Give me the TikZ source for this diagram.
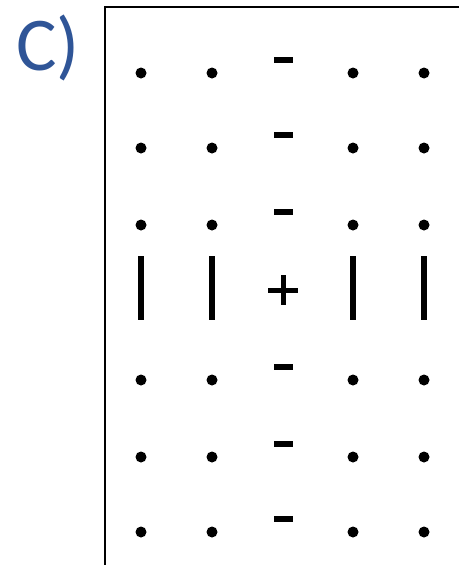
\documentclass[tikz,border=0pt]{standalone}
\usepackage{fontspec}
\newfontfamily\tagfont{Carlito}
\definecolor{tagblue}{HTML}{2F5597}
\begin{document}
\begin{tikzpicture}[
  x=1pt, y=-1pt,
  charge/.style={circle, fill=black, inner sep=0pt, minimum size=11pt},
  neg/.style={rectangle, fill=black, inner sep=0pt, minimum width=19pt, minimum height=6pt},
  wall/.style={rectangle, fill=black, inner sep=0pt, minimum width=6pt, minimum height=64pt},
  arm/.style={rectangle, fill=black, inner sep=0pt}
]
  \useasboundingbox (0,0) rectangle (459,565);
  % panel label
  \node[anchor=base west, inner sep=0pt, text=tagblue, font=\tagfont\fontsize{76}{76}\selectfont] (tag) at (16,70) {C)};
  % frame
  \coordinate (tr) at (459,7);
  \coordinate (tl) at (105,7);
  \coordinate (bl) at (105,565);
  \draw[line width=2.2pt] (tr) -- (tl) -- (bl);
  % rows of charges
  \foreach \r/\y in {1/73,2/148,3/225,5/380,6/457,7/532} {
    \foreach \c/\x in {1/141,2/212,4/353,5/424}
      \node[charge] (d\r\c) at (\x,\y) {};
    \node[neg] (m\r) at (283,\y-13) {};
  }
  % middle row
  \foreach \c/\x in {1/141,2/212,4/353,5/424}
    \node[wall] (b\c) at (\x,288) {};
  \node[arm, minimum width=30pt, minimum height=5pt] (ph) at (283,290) {};
  \node[arm, minimum width=5pt, minimum height=30pt] (pv) at (283,290) {};
\end{tikzpicture}
\end{document}
